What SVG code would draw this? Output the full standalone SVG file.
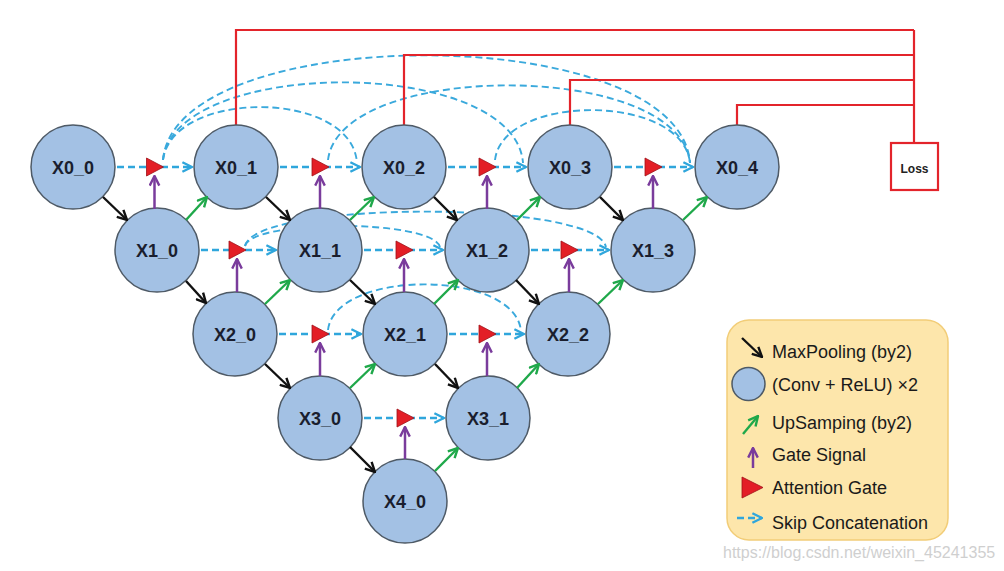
<svg xmlns="http://www.w3.org/2000/svg" width="1004" height="571" viewBox="0 0 1004 571">
<defs>
<style>
.node circle{fill:#a3c1e4;stroke:#4e5a66;stroke-width:1.5}
.node text{font-family:"Liberation Sans",Arial,sans-serif;font-weight:bold;font-size:18px;fill:#1a1e2e;text-anchor:middle}
.red{fill:none;stroke:#e3242b;stroke-width:2.2}
.skip{fill:none;stroke:#2fa6dc;stroke-width:2.5;stroke-dasharray:7 4}
.arc{fill:none;stroke:#3aa9dc;stroke-width:1.9;stroke-dasharray:7 4}
.pool{stroke:#111;stroke-width:2.4;fill:none}
.up{stroke:#1fa84a;stroke-width:2.4;fill:none}
.gate{stroke:#7a3c9c;stroke-width:2.5;fill:none}
.tri{fill:#e31e26;stroke:#a01018;stroke-width:0.8}
.leg{font-family:"Liberation Sans",Arial,sans-serif;font-size:18px;fill:#1a1a1a}
</style>
<marker id="mBlack" viewBox="0 0 10 10" refX="9" refY="5" markerWidth="12" markerHeight="12" markerUnits="userSpaceOnUse" orient="auto"><path d="M1,1 L9,5 L1,9" fill="none" stroke="#111" stroke-width="2"/></marker>
<marker id="mGreen" viewBox="0 0 10 10" refX="9" refY="5" markerWidth="12" markerHeight="12" markerUnits="userSpaceOnUse" orient="auto"><path d="M1,1 L9,5 L1,9" fill="none" stroke="#1fa84a" stroke-width="2"/></marker>
<marker id="mPurple" viewBox="0 0 10 10" refX="9" refY="5" markerWidth="12" markerHeight="12" markerUnits="userSpaceOnUse" orient="auto"><path d="M1,1 L9,5 L1,9" fill="none" stroke="#7a3c9c" stroke-width="2"/></marker>
<marker id="mBlue" viewBox="0 0 10 10" refX="9" refY="5" markerWidth="12" markerHeight="12" markerUnits="userSpaceOnUse" orient="auto"><path d="M1,1 L9,5 L1,9" fill="none" stroke="#2fa6dc" stroke-width="2"/></marker>
</defs>
<rect width="1004" height="571" fill="#ffffff"/>

<g id="connectors">
  <path class="arc" d="M163,160 C175,20 680,20 690,163"/>
  <path class="arc" d="M163,160 C175,56 515,56 523,163"/>
  <path class="arc" d="M163,160 C172,89 352,89 357,163"/>
  <path class="arc" d="M328,160 C340,60 680,60 690,163"/>
  <path class="arc" d="M495,160 C503,93 683,93 690,163"/>
  <path class="arc" d="M245,246 C255,200 596,200 606,247"/>
  <path class="arc" d="M245,246 C252,219 432,219 440,247"/>
  <path class="arc" d="M328,330 C335,269 515,269 521,331"/>
  <path class="red" d="M236,125 V30 H914"/>
  <path class="red" d="M404,125 V55 H914"/>
  <path class="red" d="M570,125 V80 H914"/>
  <path class="red" d="M737,125 V105 H914"/>
  <path class="red" d="M914,30 V143"/>
  <path class="skip" marker-end="url(#mBlue)" d="M117,167 H192"/>
  <path class="skip" marker-end="url(#mBlue)" d="M280,167 H360"/>
  <path class="skip" marker-end="url(#mBlue)" d="M448,167 H526"/>
  <path class="skip" marker-end="url(#mBlue)" d="M614,167 H693"/>
  <path class="skip" marker-end="url(#mBlue)" d="M201,250 H276"/>
  <path class="skip" marker-end="url(#mBlue)" d="M364,250 H443"/>
  <path class="skip" marker-end="url(#mBlue)" d="M531,250 H609"/>
  <path class="skip" marker-end="url(#mBlue)" d="M279,334 H361"/>
  <path class="skip" marker-end="url(#mBlue)" d="M449,334 H524"/>
  <path class="skip" marker-end="url(#mBlue)" d="M364,418 H444"/>
</g>

<g id="X0_0" class="node"><circle cx="73" cy="167" r="42"/><text x="73" y="173.5">X0_0</text></g>
<g id="X0_1" class="node"><circle cx="236" cy="167" r="42"/><text x="236" y="173.5">X0_1</text></g>
<g id="X0_2" class="node"><circle cx="404" cy="167" r="42"/><text x="404" y="173.5">X0_2</text></g>
<g id="X0_3" class="node"><circle cx="570" cy="167" r="42"/><text x="570" y="173.5">X0_3</text></g>
<g id="X0_4" class="node"><circle cx="737" cy="167" r="42"/><text x="737" y="173.5">X0_4</text></g>
<g id="X1_0" class="node"><circle cx="157" cy="250" r="42"/><text x="157" y="256.5">X1_0</text></g>
<g id="X1_1" class="node"><circle cx="320" cy="250" r="42"/><text x="320" y="256.5">X1_1</text></g>
<g id="X1_2" class="node"><circle cx="487" cy="250" r="42"/><text x="487" y="256.5">X1_2</text></g>
<g id="X1_3" class="node"><circle cx="653" cy="250" r="42"/><text x="653" y="256.5">X1_3</text></g>
<g id="X2_0" class="node"><circle cx="235" cy="334" r="42"/><text x="235" y="340.5">X2_0</text></g>
<g id="X2_1" class="node"><circle cx="405" cy="334" r="42"/><text x="405" y="340.5">X2_1</text></g>
<g id="X2_2" class="node"><circle cx="568" cy="334" r="42"/><text x="568" y="340.5">X2_2</text></g>
<g id="X3_0" class="node"><circle cx="320" cy="418" r="42"/><text x="320" y="424.5">X3_0</text></g>
<g id="X3_1" class="node"><circle cx="488" cy="418" r="42"/><text x="488" y="424.5">X3_1</text></g>
<g id="X4_0" class="node"><circle cx="405" cy="501" r="42"/><text x="405" y="507.5">X4_0</text></g>

<g id="Loss"><rect x="891" y="143" width="47" height="47" fill="#fff" stroke="#e3242b" stroke-width="2.2"/><text x="914.5" y="173" text-anchor="middle" font-family="Liberation Sans, Arial, sans-serif" font-weight="bold" font-size="12" fill="#222">Loss</text></g>

<g id="arrows">
  <path class="pool" marker-end="url(#mBlack)" d="M103,197 L127,220"/>
  <path class="pool" marker-end="url(#mBlack)" d="M186,281 L206,303"/>
  <path class="pool" marker-end="url(#mBlack)" d="M265,364 L290,388"/>
  <path class="pool" marker-end="url(#mBlack)" d="M350,447 L375,472"/>
  <path class="pool" marker-end="url(#mBlack)" d="M266,197 L290,220"/>
  <path class="pool" marker-end="url(#mBlack)" d="M350,280 L375,304"/>
  <path class="pool" marker-end="url(#mBlack)" d="M435,364 L458,388"/>
  <path class="pool" marker-end="url(#mBlack)" d="M434,197 L457,220"/>
  <path class="pool" marker-end="url(#mBlack)" d="M516,280 L539,304"/>
  <path class="pool" marker-end="url(#mBlack)" d="M600,197 L623,220"/>
  <path class="up" marker-end="url(#mGreen)" d="M186,220 L207,197"/>
  <path class="up" marker-end="url(#mGreen)" d="M265,304 L290,280"/>
  <path class="up" marker-end="url(#mGreen)" d="M350,388 L375,364"/>
  <path class="up" marker-end="url(#mGreen)" d="M435,471 L458,448"/>
  <path class="up" marker-end="url(#mGreen)" d="M350,220 L374,197"/>
  <path class="up" marker-end="url(#mGreen)" d="M434,304 L458,280"/>
  <path class="up" marker-end="url(#mGreen)" d="M517,388 L539,364"/>
  <path class="up" marker-end="url(#mGreen)" d="M517,220 L540,197"/>
  <path class="up" marker-end="url(#mGreen)" d="M598,304 L623,280"/>
  <path class="up" marker-end="url(#mGreen)" d="M683,220 L707,197"/>
  <path class="gate" marker-end="url(#mPurple)" d="M154.5,209 V176"/>
  <path class="gate" marker-end="url(#mPurple)" d="M320,209 V176"/>
  <path class="gate" marker-end="url(#mPurple)" d="M487,209 V176"/>
  <path class="gate" marker-end="url(#mPurple)" d="M653,209 V176"/>
  <path class="gate" marker-end="url(#mPurple)" d="M237,292 V259"/>
  <path class="gate" marker-end="url(#mPurple)" d="M404,292 V259"/>
  <path class="gate" marker-end="url(#mPurple)" d="M569,292 V259"/>
  <path class="gate" marker-end="url(#mPurple)" d="M320,376 V343"/>
  <path class="gate" marker-end="url(#mPurple)" d="M487,376 V343"/>
  <path class="gate" marker-end="url(#mPurple)" d="M405,459 V427"/>
</g>

<g id="gates">
  <polygon class="tri" points="146.5,158 146.5,176 163.5,167"/>
  <polygon class="tri" points="312,158 312,176 329,167"/>
  <polygon class="tri" points="479,158 479,176 496,167"/>
  <polygon class="tri" points="645,158 645,176 662,167"/>
  <polygon class="tri" points="229,241 229,259 246,250"/>
  <polygon class="tri" points="396,241 396,259 413,250"/>
  <polygon class="tri" points="561,241 561,259 578,250"/>
  <polygon class="tri" points="312,325 312,343 329,334"/>
  <polygon class="tri" points="479,325 479,343 496,334"/>
  <polygon class="tri" points="397,409 397,427 414,418"/>
</g>

<g id="legend">
  <rect x="727" y="320" width="221" height="220" rx="22" fill="#fde6ab" stroke="#f2cd78" stroke-width="1.5"/>
  <path class="pool" marker-end="url(#mBlack)" d="M742,338 L762,357"/>
  <text class="leg" x="772" y="358">MaxPooling (by2)</text>
  <circle cx="748.5" cy="384" r="16.5" fill="#a3c1e4" stroke="#4e5a66" stroke-width="1.5"/>
  <text class="leg" x="772" y="391">(Conv + ReLU) ×2</text>
  <path class="up" marker-end="url(#mGreen)" d="M743,434 L758,416"/>
  <text class="leg" x="772" y="429">UpSamping (by2)</text>
  <path class="gate" marker-end="url(#mPurple)" d="M753,468 V448"/>
  <text class="leg" x="772" y="461">Gate Signal</text>
  <polygon class="tri" points="742,477 742,498 763,487.5"/>
  <text class="leg" x="772" y="494">Attention Gate</text>
  <path class="skip" marker-end="url(#mBlue)" d="M737,518 H762" stroke-width="2"/>
  <text class="leg" x="772" y="529">Skip Concatenation</text>
</g>

<text x="723" y="558" font-family="Liberation Sans, Arial, sans-serif" font-size="16" fill="#cfcfcf">https://blog.csdn.net/weixin_45241355</text>
</svg>
